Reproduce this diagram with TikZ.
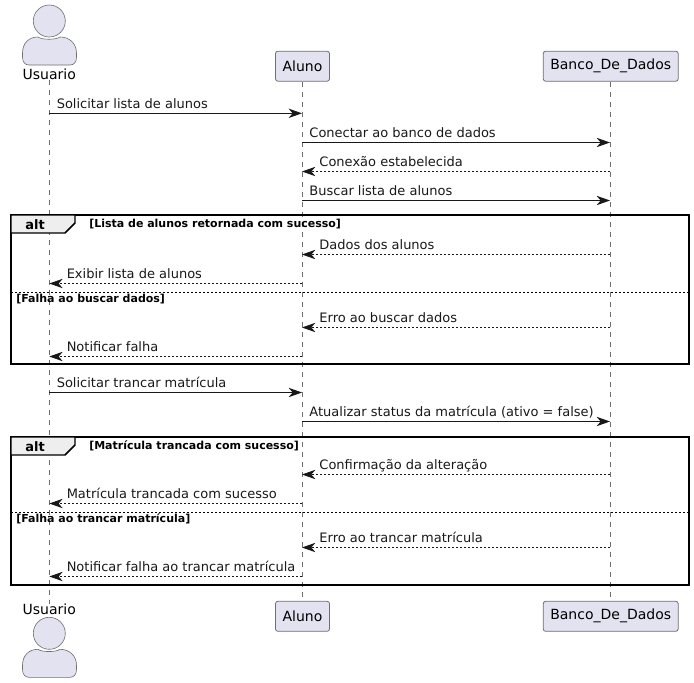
\documentclass[tikz,border=0pt]{standalone}
\usepackage{fontspec}
\setmainfont{DejaVu Sans}
\usetikzlibrary{arrows.meta}
\definecolor{partfill}{HTML}{E2E2F0}
\definecolor{partline}{HTML}{6E6E6E}
\definecolor{inkc}{HTML}{181818}
\definecolor{tabfill}{HTML}{EEEEEE}
\tikzset{
  x=0.75pt,y=-0.75pt,
  partbox/.style={draw=partline,fill=partfill,line width=0.6pt,rounded corners=1.8pt,minimum height=22.5pt,inner sep=0pt,text=black,font=\fontsize{10.5}{12}\selectfont},
  actorshape/.style={draw=partline,fill=partfill,line width=0.45pt},
  actorname/.style={inner sep=0pt,text=black,font=\fontsize{10.5}{12}\selectfont},
  lifeline/.style={draw=partline,line width=0.5pt,dash pattern=on 3.75pt off 3.75pt},
  tip/.style={-{Stealth[length=10pt,width=7pt,inset=3pt,color=inkc]}},
  callmsg/.style={tip,draw=inkc,line width=0.75pt},
  retmsg/.style={tip,draw=inkc,line width=0.6pt,dash pattern=on 1.5pt off 1.5pt},
  msgtext/.style={anchor=base west,inner sep=0pt,text=inkc,font=\fontsize{9.75}{12}\selectfont},
  framebox/.style={draw=black,line width=1.5pt},
  frametab/.style={draw=black,line width=1.1pt,fill=tabfill},
  framename/.style={inner sep=0pt,text=black,font=\bfseries\fontsize{9.75}{12}\selectfont},
  guardtext/.style={anchor=base west,inner sep=0pt,text=black,font=\bfseries\fontsize{8.25}{10}\selectfont},
  elseline/.style={draw=black,line width=0.75pt,dash pattern=on 1.5pt off 1.5pt},
}
\newcommand{\callm}[5]{%
  \coordinate (s#4) at (#1,#3);\coordinate (e#4) at (#2,#3);
  \draw[callmsg] (s#4) -- (e#4);
  \node[msgtext] (t#4) at (#1+7.2,#3-4.7) {#5};}
\newcommand{\retm}[5]{%
  \coordinate (s#4) at (#1,#3);\coordinate (e#4) at (#2,#3);
  \draw[retmsg] (s#4) -- (e#4);
  \node[msgtext] (t#4) at (#2+17.2,#3-4.7) {#5};}
\newcommand{\altframe}[6]{%
  \draw[framebox] (11,#1) rectangle (689,#2);
  \draw[frametab] (11,#1) -- (75,#1) -- (75,#1+8) -- (65,#1+18) -- (11,#1+18) -- cycle;
  \node[framename] (alt#6) at (35,#1+9.5) {alt};
  \node[guardtext] (g#6) at (89,#1+12.5) {#4};
  \draw[elseline] (11,#3) -- (689,#3);
  \node[guardtext] (h#6) at (16,#3+10) {#5};}
\newcommand{\actorfig}[2]{%
  \draw[actorshape] (49.3,#1) circle (12pt);
  \draw[actorshape] (22.5,#2+16)
     .. controls (22.5,#2+6) and (29,#2) .. (38,#2)
     .. controls (42,#2+3) and (56,#2+3) .. (60,#2)
     .. controls (69,#2) and (76.5,#2+6) .. (76.5,#2+16)
     -- (76.5,#2+20) .. controls (76.5,#2+25) and (74,#2+28) .. (70,#2+28)
     -- (29,#2+28) .. controls (25,#2+28) and (22.5,#2+25) .. (22.5,#2+20) -- cycle;}
\begin{document}
\begin{tikzpicture}
\useasboundingbox (0,0) rectangle (694,683);
\def\xu{49.3}\def\xa{302}\def\xb{610}
\actorfig{21}{37}
\node[actorname] (u1) at (\xu,74.3) {Usuario};
\node[partbox,minimum width=40.5pt] (a1) at (\xa+0.5,66.2) {Aluno};
\node[partbox,minimum width=101.2pt] (b1) at (\xb+0.7,66.2) {Banco\_De\_Dados};
\actorfig{633.3}{649.3}
\node[actorname] (u2) at (\xu,609.3) {Usuario};
\node[partbox,minimum width=40.5pt] (a2) at (\xa+0.5,616.3) {Aluno};
\node[partbox,minimum width=101.2pt] (b2) at (\xb+0.7,616.3) {Banco\_De\_Dados};
\draw[lifeline] (u1.south) -- (u2.north);
\draw[lifeline] (a1.south) -- (a2.north);
\draw[lifeline] (b1.south) -- (b2.north);
\altframe{215}{364}{292}{[Lista de alunos retornada com sucesso]}{[Falha ao buscar dados]}{A}
\altframe{437}{585}{512.5}{[Matrícula trancada com sucesso]}{[Falha ao trancar matrícula]}{B}
\callm{\xu}{\xa}{113.3}{m1}{Solicitar lista de alunos}
\callm{\xa}{\xb}{142.5}{m2}{Conectar ao banco de dados}
\retm{\xb}{\xa}{171.5}{m3}{Conexão estabelecida}
\callm{\xa}{\xb}{200.5}{m4}{Buscar lista de alunos}
\retm{\xb}{\xa}{254.5}{m5}{Dados dos alunos}
\retm{\xa}{\xu}{283.5}{m6}{Exibir lista de alunos}
\retm{\xb}{\xa}{327.5}{m7}{Erro ao buscar dados}
\retm{\xa}{\xu}{356.5}{m8}{Notificar falha}
\callm{\xu}{\xa}{392.5}{m9}{Solicitar trancar matrícula}
\callm{\xa}{\xb}{421.5}{m10}{Atualizar status da matrícula (ativo = false)}
\retm{\xb}{\xa}{474.5}{m11}{Confirmação da alteração}
\retm{\xa}{\xu}{503.5}{m12}{Matrícula trancada com sucesso}
\retm{\xb}{\xa}{547.5}{m13}{Erro ao trancar matrícula}
\retm{\xa}{\xu}{576.5}{m14}{Notificar falha ao trancar matrícula}
\end{tikzpicture}
\end{document}
